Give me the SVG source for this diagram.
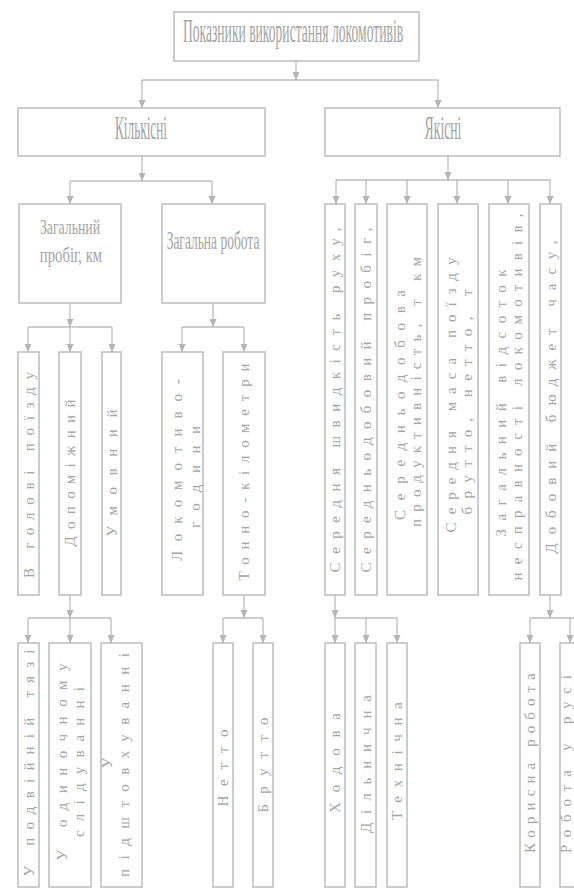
<svg xmlns="http://www.w3.org/2000/svg" width="574" height="893" viewBox="0 0 574 893">
<style>
.b{fill:#fff;stroke:#bcbcbc;stroke-width:1.5}
.c{fill:none;stroke:#bcbcbc;stroke-width:1.3}
.a{marker-end:url(#ah)}
.t{font-family:"Liberation Serif","Times New Roman",serif;fill:#a4a4a4}
.h{text-anchor:middle}
.v{font-size:15px;text-anchor:middle}
</style>
<defs>
<marker id="ah" viewBox="0 0 8 8" refX="8" refY="4" markerWidth="8" markerHeight="8" markerUnits="userSpaceOnUse" orient="auto">
<path d="M0,0.5 L8,4 L0,7.5 z" fill="#b4b4b4"/>
</marker>
</defs>
<rect width="574" height="893" fill="#fff"/>

<g id="connectors">
<path class="c a" d="M296,61 V80"/>
<path class="c" d="M142,80 H438"/>
<path class="c a" d="M142,80 V108"/>
<path class="c a" d="M438,80 V108"/>

<path class="c a" d="M142,156 V181"/>
<path class="c" d="M70,181 H212"/>
<path class="c a" d="M70,181 V204"/>
<path class="c a" d="M212,181 V204"/>

<path class="c a" d="M448,156 V180"/>
<path class="c" d="M336,180 H551"/>
<path class="c a" d="M336,180 V204"/>
<path class="c a" d="M366,180 V204"/>
<path class="c a" d="M407,180 V204"/>
<path class="c a" d="M457,180 V204"/>
<path class="c a" d="M508,180 V204"/>
<path class="c a" d="M550,180 V204"/>

<path class="c a" d="M70,303 V327"/>
<path class="c" d="M28,327 H112"/>
<path class="c a" d="M28,327 V352"/>
<path class="c a" d="M70,327 V352"/>
<path class="c a" d="M112,327 V352"/>

<path class="c a" d="M213,303 V327"/>
<path class="c" d="M182,327 H244"/>
<path class="c a" d="M182,327 V352"/>
<path class="c a" d="M244,327 V352"/>

<path class="c a" d="M70,595 V618"/>
<path class="c" d="M28,618 H111"/>
<path class="c a" d="M28,618 V643"/>
<path class="c a" d="M70,618 V643"/>
<path class="c a" d="M111,618 V643"/>

<path class="c a" d="M244,595 V618"/>
<path class="c" d="M223,618 H263"/>
<path class="c a" d="M223,618 V643"/>
<path class="c a" d="M263,618 V643"/>

<path class="c a" d="M335,595 V618"/>
<path class="c" d="M335,618 H397"/>
<path class="c a" d="M335,618 V643"/>
<path class="c a" d="M366,618 V643"/>
<path class="c a" d="M397,618 V643"/>

<path class="c a" d="M550,595 V618"/>
<path class="c" d="M530,618 H574"/>
<path class="c a" d="M530,618 V643"/>
<path class="c a" d="M570,618 V643"/>
</g>

<g id="n-top"><rect class="b" x="174" y="12" width="245" height="49"/>
<text class="t h" transform="translate(293,42) scale(0.41,1)" font-size="34" textLength="537" lengthAdjust="spacingAndGlyphs">Показники використання локомотивів</text></g>

<g id="n-kilkisni"><rect class="b" x="18" y="108" width="247" height="48"/>
<text class="t h" transform="translate(141,139) scale(0.38,1)" font-size="34" textLength="137" lengthAdjust="spacingAndGlyphs">Кількісні</text></g>

<g id="n-yakisni"><rect class="b" x="325" y="108" width="235" height="48"/>
<text class="t h" transform="translate(443,139) scale(0.4,1)" font-size="34" textLength="92" lengthAdjust="spacingAndGlyphs">Якісні</text></g>

<g id="n-zag-probig"><rect class="b" x="19" y="204" width="102" height="99"/>
<text class="t h" transform="translate(70,234) scale(0.64,1)" font-size="22" textLength="94" lengthAdjust="spacingAndGlyphs">Загальний</text>
<text class="t h" transform="translate(71,262) scale(0.63,1)" font-size="22" textLength="99" lengthAdjust="spacingAndGlyphs">пробіг, км</text></g>

<g id="n-zag-robota"><rect class="b" x="162" y="204" width="103" height="99"/>
<text class="t h" transform="translate(213,249) scale(0.53,1)" font-size="26" textLength="175" lengthAdjust="spacingAndGlyphs">Загальна робота</text></g>

<g id="n-v-golovi"><rect class="b" x="18" y="352" width="21" height="243"/>
<text class="t v" transform="translate(28.5,475) rotate(-90)" y="5" textLength="206" lengthAdjust="spacing">В голові поїзду</text></g>

<g id="n-dopomizhnyi"><rect class="b" x="59" y="352" width="22" height="243"/>
<text class="t v" transform="translate(70,473) rotate(-90)" y="5" textLength="147" lengthAdjust="spacing">Допоміжний</text></g>

<g id="n-umovnyi"><rect class="b" x="102" y="352" width="19" height="243"/>
<text class="t v" transform="translate(111.5,473) rotate(-90)" y="5" textLength="127" lengthAdjust="spacing">Умовний</text></g>

<g id="n-lokomotyvo-hodyny"><rect class="b" x="162" y="352" width="41" height="243"/>
<text class="t v" transform="translate(177,470) rotate(-90)" y="5" textLength="182" lengthAdjust="spacing">Локомотиво-</text>
<text class="t v" transform="translate(195,477) rotate(-90)" y="5" textLength="102" lengthAdjust="spacing">години</text></g>

<g id="n-tonno-km"><rect class="b" x="223" y="352" width="42" height="243"/>
<text class="t v" transform="translate(244,472) rotate(-90)" y="5" textLength="217" lengthAdjust="spacing">Тонно-кілометри</text></g>

<g id="n-ser-shvydkist"><rect class="b" x="325" y="204" width="20" height="391"/>
<text class="t v" transform="translate(335,400) rotate(-90)" y="5" textLength="345" lengthAdjust="spacing">Середня швидкість руху,</text></g>

<g id="n-ser-probig"><rect class="b" x="355" y="204" width="22" height="391"/>
<text class="t v" transform="translate(366,400) rotate(-90)" y="5" textLength="345" lengthAdjust="spacing">Середньодобовий пробіг,</text></g>

<g id="n-ser-produkt"><rect class="b" x="387" y="204" width="40" height="391"/>
<text class="t v" transform="translate(400,405) rotate(-90)" y="5" textLength="230" lengthAdjust="spacing">Середньодобова</text>
<text class="t v" transform="translate(416,392) rotate(-90)" y="5" textLength="270" lengthAdjust="spacing">продуктивність, т км</text></g>

<g id="n-ser-masa"><rect class="b" x="438" y="204" width="40" height="391"/>
<text class="t v" transform="translate(451,395) rotate(-90)" y="5" textLength="275" lengthAdjust="spacing">Середня маса поїзду</text>
<text class="t v" transform="translate(467,402) rotate(-90)" y="5" textLength="225" lengthAdjust="spacing">брутто, нетто, т</text></g>

<g id="n-vidsotok"><rect class="b" x="489" y="204" width="40" height="391"/>
<text class="t v" transform="translate(501,403) rotate(-90)" y="5" textLength="267" lengthAdjust="spacing">Загальний відсоток</text>
<text class="t v" transform="translate(517,397) rotate(-90)" y="5" textLength="367" lengthAdjust="spacing">несправності локомотивів,</text></g>

<g id="n-biudzhet"><rect class="b" x="540" y="204" width="21" height="391"/>
<text class="t v" transform="translate(550.5,397) rotate(-90)" y="5" textLength="313" lengthAdjust="spacing">Добовий бюджет часу,</text></g>

<g id="n-podviina"><rect class="b" x="18" y="643" width="21" height="244"/>
<text class="t v" transform="translate(28.5,763) rotate(-90)" y="5" textLength="227" lengthAdjust="spacing">У подвійній тязі</text></g>

<g id="n-odynochne"><rect class="b" x="49" y="643" width="42" height="244"/>
<text class="t v" transform="translate(62,762) rotate(-90)" y="5" textLength="197" lengthAdjust="spacing">У одиночному</text>
<text class="t v" transform="translate(79,762) rotate(-90)" y="5" textLength="150" lengthAdjust="spacing">слідуванні</text></g>

<g id="n-pidshtovkh"><rect class="b" x="101" y="643" width="41" height="244"/>
<text class="t v" transform="translate(107,763) rotate(-90)" y="5">У</text>
<text class="t v" transform="translate(124,765) rotate(-90)" y="5" textLength="224" lengthAdjust="spacing">підштовхуванні</text></g>

<g id="n-netto"><rect class="b" x="213" y="643" width="20" height="244"/>
<text class="t v" transform="translate(223,768) rotate(-90)" y="5" textLength="77" lengthAdjust="spacing">Нетто</text></g>

<g id="n-brutto"><rect class="b" x="253" y="643" width="20" height="244"/>
<text class="t v" transform="translate(263,765) rotate(-90)" y="5" textLength="95" lengthAdjust="spacing">Брутто</text></g>

<g id="n-khodova"><rect class="b" x="325" y="643" width="20" height="244"/>
<text class="t v" transform="translate(335,763) rotate(-90)" y="5" textLength="100" lengthAdjust="spacing">Ходова</text></g>

<g id="n-dilnychna"><rect class="b" x="355" y="643" width="21" height="244"/>
<text class="t v" transform="translate(365.5,764) rotate(-90)" y="5" textLength="138" lengthAdjust="spacing">Дільнична</text></g>

<g id="n-tekhnichna"><rect class="b" x="387" y="643" width="20" height="244"/>
<text class="t v" transform="translate(397,761) rotate(-90)" y="5" textLength="118" lengthAdjust="spacing">Технічна</text></g>

<g id="n-korysna"><rect class="b" x="520" y="643" width="20" height="244"/>
<text class="t v" transform="translate(530,763) rotate(-90)" y="5" textLength="180" lengthAdjust="spacing">Корисна робота</text></g>

<g id="n-robota-rusi"><rect class="b" x="560" y="643" width="20" height="244"/>
<text class="t v" transform="translate(566,764) rotate(-90)" y="5" textLength="178" lengthAdjust="spacing">Робота у русі</text></g>
</svg>
